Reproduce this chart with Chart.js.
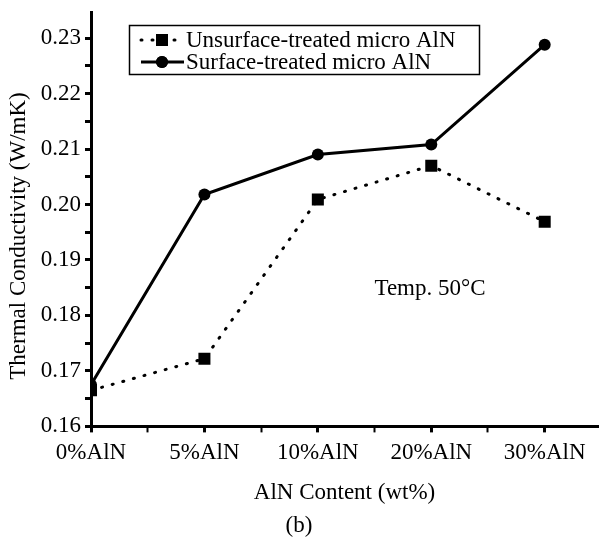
<!DOCTYPE html>
<html>
<head>
<meta charset="utf-8">
<script src="https://cdn.jsdelivr.net/npm/chart.js@4.4.1/dist/chart.umd.min.js"></script>
<style>
html, body { margin: 0; padding: 0; background: #fff; }
#wrap { width: 599px; height: 540px; }
</style>
</head>
<body>
<div id="wrap"><canvas id="lineChart" width="599" height="540"></canvas></div>
<script>
const categories = ['0%AlN', '5%AlN', '10%AlN', '20%AlN', '30%AlN'];
const unsurfaceValues = [0.1665, 0.1722, 0.2009, 0.2070, 0.1969];
const surfaceValues = [0.1675, 0.2018, 0.2090, 0.2108, 0.2288];
const yTicks = [0.16, 0.17, 0.18, 0.19, 0.20, 0.21, 0.22, 0.23];
const seriesNames = ['Unsurface-treated micro AlN', 'Surface-treated micro AlN'];

const serif = "'Liberation Serif', 'DejaVu Serif', serif";
const fontSize = 23;

// legend box, y title and the temperature note are drawn on top of the chart
const extras = {
  id: 'extras',
  afterDraw(chart) {
    const ctx = chart.ctx;
    const ds = chart.data.datasets;
    ctx.save();
    ctx.fillStyle = '#000';
    ctx.strokeStyle = '#000';
    ctx.font = fontSize + 'px ' + serif;

    // y axis title
    ctx.save();
    ctx.translate(19, 236);
    ctx.rotate(-Math.PI / 2);
    ctx.textAlign = 'center';
    ctx.textBaseline = 'middle';
    ctx.fillText('Thermal Conductivity (W/mK)', 0, 0);
    ctx.restore();

    // note
    ctx.textAlign = 'center';
    ctx.textBaseline = 'middle';
    ctx.fillText('Temp. 50°C', 430, 289);

    // legend
    ctx.lineWidth = 1.5;
    ctx.strokeRect(129.5, 25.5, 350, 49);
    const rows = [40, 62];
    rows.forEach(function (y, i) {
      const d = ds[i];
      ctx.save();
      ctx.lineWidth = d.borderWidth;
      ctx.lineCap = d.borderCapStyle || 'butt';
      ctx.setLineDash(d.borderDash || []);
      ctx.beginPath();
      ctx.moveTo(141, y);
      ctx.lineTo(184, y);
      ctx.stroke();
      ctx.restore();
      Chart.helpers.drawPoint(ctx, { pointStyle: d.pointStyle, radius: d.pointRadius, borderWidth: 0 }, 162, y);
      ctx.fill();
      ctx.textAlign = 'left';
      ctx.fillText(d.label, 186, y + 1);
    });
    ctx.restore();
  }
};

const ctx = document.getElementById('lineChart');

new Chart(ctx, {
  type: 'line',
  data: {
    datasets: [{
      label: seriesNames[0],
      data: categories.map((c, i) => ({ x: i, y: unsurfaceValues[i] })),
      borderColor: '#000',
      backgroundColor: '#000',
      borderWidth: 3,
      borderDash: [1, 10],
      borderCapStyle: 'round',
      pointStyle: 'rect',
      pointRadius: 8.5,
      pointBorderWidth: 0,
      clip: { left: 0, top: 20, right: 20, bottom: 0 }
    }, {
      label: seriesNames[1],
      data: categories.map((c, i) => ({ x: i, y: surfaceValues[i] })),
      borderColor: '#000',
      backgroundColor: '#000',
      borderWidth: 3,
      pointStyle: 'circle',
      pointRadius: 6,
      pointBorderWidth: 0,
      clip: { left: 0, top: 20, right: 20, bottom: 0 }
    }]
  },
  options: {
    responsive: false,
    animation: false,
    devicePixelRatio: 1,
    layout: { autoPadding: false, padding: { top: 12, right: 1, left: 0, bottom: 0 } },
    plugins: {
      legend: { display: false },
      tooltip: { enabled: false },
      title: {
        display: true,
        position: 'bottom',
        text: '(b)',
        color: '#000',
        font: { family: serif, size: fontSize, weight: 'normal' },
        padding: { top: 0, bottom: 0 }
      }
    },
    scales: {
      x: {
        type: 'linear',
        min: 0,
        max: 4.47,
        afterFit(scale) {
          scale.height = 86;
          scale.paddingLeft = 0;
          scale.paddingRight = 0;
        },
        border: { color: '#000', width: 3 },
        grid: {
          drawOnChartArea: false,
          drawTicks: true,
          tickLength: 6,
          tickColor: '#000',
          tickWidth: (c) => Number.isInteger(c.tick.value) ? 3 : 2
        },
        ticks: {
          stepSize: 0.5,
          includeBounds: false,
          autoSkip: false,
          maxRotation: 0,
          padding: 7,
          color: '#000',
          font: { family: serif, size: fontSize },
          callback: (v) => Number.isInteger(v) ? categories[v] : ''
        },
        title: {
          display: true,
          text: 'AlN Content (wt%)',
          color: '#000',
          font: { family: serif, size: fontSize },
          padding: { top: 0, bottom: 6 }
        }
      },
      y: {
        type: 'linear',
        min: 0.16,
        max: 0.2347,
        afterFit(scale) {
          scale.width = 91;
          scale.paddingTop = 0;
          scale.paddingBottom = 0;
        },
        border: { color: '#000', width: 3 },
        grid: {
          drawOnChartArea: false,
          drawTicks: true,
          tickLength: 6,
          tickColor: '#000',
          tickWidth: 3
        },
        ticks: {
          stepSize: 0.005,
          includeBounds: false,
          autoSkip: false,
          padding: 4,
          color: '#000',
          font: { family: serif, size: fontSize },
          callback: function (v) {
            const hit = yTicks.find((t) => Math.abs(t - v) < 1e-6);
            return hit !== undefined ? hit.toFixed(2) : '';
          }
        }
      }
    }
  },
  plugins: [extras]
});
</script>
</body>
</html>
